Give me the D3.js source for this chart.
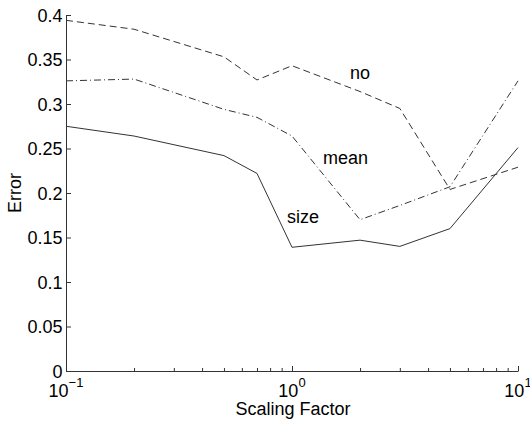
<!DOCTYPE html>
<html><head><meta charset="utf-8">
<script src="https://cdn.jsdelivr.net/npm/d3@7"></script>
<style>body{margin:0;background:#fff}svg{display:block}text{font-family:"Liberation Sans",Arial,Helvetica,sans-serif;fill:#000}</style>
</head><body><svg id="c" width="530" height="421"></svg>
<script>
const xValues = [0.1, 0.2, 0.5, 0.7, 1, 2, 3, 5, 10];
const sizeErr = [0.275, 0.264, 0.242, 0.222, 0.139, 0.147, 0.140, 0.160, 0.251];
const meanErr = [0.326, 0.328, 0.294, 0.285, 0.264, 0.170, 0.186, 0.207, 0.326];
const noErr   = [0.394, 0.384, 0.353, 0.327, 0.343, 0.314, 0.295, 0.204, 0.229];
const yTicks = [0, 0.05, 0.1, 0.15, 0.2, 0.25, 0.3, 0.35, 0.4];
const yTickLabels = ["0", "0.05", "0.1", "0.15", "0.2", "0.25", "0.3", "0.35", "0.4"];
const xMajor = [0.1, 1, 10];
const xMajorExp = ["\u22121", "0", "1"];
const xMinor = [0.2,0.3,0.4,0.5,0.6,0.7,0.8,0.9,2,3,4,5,6,7,8,9];
const seriesNames = ["size", "mean", "no"];

const svg = d3.select("#c");
const x = d3.scaleLog().domain([0.1, 10]).range([66, 518]);
const y = d3.scaleLinear().domain([0, 0.4]).range([371, 15]);
const axisColor = "#333";
const fs = "18px";

// y axis
const gy = svg.append("g").attr("transform", "translate(66,0)");
gy.call(d3.axisLeft(y).tickValues(yTicks).tickFormat((d,i)=>yTickLabels[i]).tickSizeInner(-5).tickSizeOuter(0).tickPadding(3.5));
gy.select(".domain").attr("stroke", axisColor);
gy.selectAll(".tick line").attr("stroke", axisColor);
gy.selectAll(".tick text").style("font-size", fs).attr("font-family", null).attr("dy", "0.36em");

// x axis
const gx = svg.append("g").attr("transform", "translate(0,371)");
gx.call(d3.axisBottom(x).tickValues(xMajor).tickFormat("").tickSizeInner(-5).tickSizeOuter(0));
gx.select(".domain").attr("stroke", axisColor);
gx.selectAll(".tick line").attr("stroke", axisColor);
const gxm = svg.append("g").attr("transform", "translate(0,371)");
gxm.call(d3.axisBottom(x).tickValues(xMinor).tickFormat("").tickSizeInner(-3).tickSizeOuter(0));
gxm.select(".domain").remove();
gxm.selectAll(".tick line").attr("stroke", axisColor);

// x tick labels with superscripts
xMajor.forEach((v,i)=>{
  const t = svg.append("text").attr("x", x(v)).attr("y", 397).attr("text-anchor","middle").style("font-size",fs);
  t.append("tspan").text("10");
  t.append("tspan").attr("dy", -10).style("font-size","13px").text(xMajorExp[i]);
});

// axis titles
svg.append("text").attr("x", 293).attr("y", 415).attr("text-anchor","middle").style("font-size",fs).text("Scaling Factor");
svg.append("text").attr("transform","translate(21,193) rotate(-90)").attr("text-anchor","middle").style("font-size",fs).text("Error");

// lines
const line = d3.line().x(d=>x(d[0])).y(d=>y(d[1]));
const series = [
  {vals: sizeErr, dash: null},
  {vals: meanErr, dash: "7,3,1,3"},
  {vals: noErr, dash: "7,4"}
];
series.forEach(s=>{
  svg.append("path").datum(xValues.map((v,i)=>[v, s.vals[i]]))
    .attr("d", line).attr("fill","none").attr("stroke","#333").attr("stroke-width",1)
    .attr("stroke-dasharray", s.dash);
});

// labels
const labelPos = [[287,223],[323,164],[350,79]];
seriesNames.forEach((n,i)=>{
  svg.append("text").attr("x", labelPos[i][0]).attr("y", labelPos[i][1]).style("font-size",fs).text(n);
});
</script></body></html>
